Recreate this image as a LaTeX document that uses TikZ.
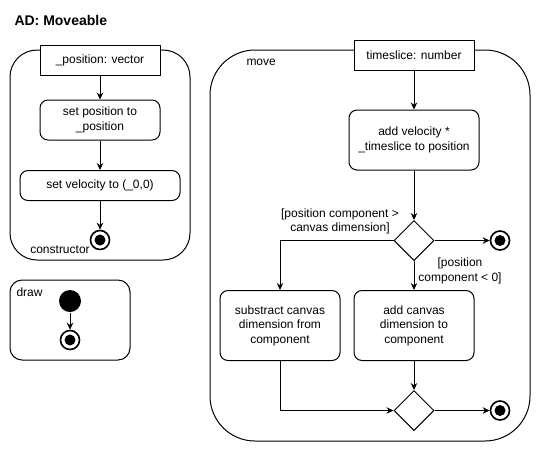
\documentclass[tikz,border=0pt]{standalone}
\usepackage{fontspec}
\setmainfont{Liberation Sans}
\usetikzlibrary{shapes.geometric,arrows.meta}
\begin{document}
\begin{tikzpicture}[x=1pt,y=-1pt,
  every node/.style={font=\fontsize{12}{14.4}\selectfont, inner sep=0pt},
  line width=1pt,
  container/.style={draw, fill=white, rounded corners=#1},
  pin/.style={draw, fill=white, minimum width=120pt, minimum height=30pt},
  action/.style={draw, fill=white, rounded corners=8pt, align=center},
  decision/.style={draw, fill=white, diamond, aspect=1, minimum width=40pt, minimum height=40pt},
  finalnode/.style={draw, circle, fill=white, line width=1.6pt, minimum size=19pt,
    path picture={\fill[black] (path picture bounding box.center) circle (5.5pt);}},
  initnode/.style={circle, fill=black, minimum size=22pt},
  flow/.style={-{Stealth[length=7pt,width=6.5pt]}},
  lbl/.style={align=center}
]
\useasboundingbox (0,0) rectangle (541,451);
% title
\node[anchor=west, font=\fontsize{14}{16}\selectfont\bfseries] (title) at (14,20) {AD: Moveable};

% containers
\node[container=27pt, minimum width=180pt, minimum height=210pt] (cons) at (100,155) {};
\node[container=12pt, minimum width=120pt, minimum height=80pt] (drawc) at (70,320) {};
\node[container=45pt, minimum width=320pt, minimum height=391pt] (movec) at (370,245.5) {};

\node (consl) at (60,250) {constructor};
\node[anchor=west] (drawl) at (16,292) {draw};
\node[anchor=west] (movel) at (246,62) {move};

% constructor
\node[pin] (pos) at (100,60) {\_position: vector};
\node[action, minimum width=120pt, minimum height=40pt] (setpos) at (100,120) {set position to\\\_position};
\node[action, minimum width=160pt, minimum height=30pt] (setvel) at (100,185.5) {set velocity to (\_0,0)};
\node[finalnode] (end1) at (100,240) {};
\draw[flow] (pos) -- (setpos);
\draw[flow] (setpos) -- (setvel);
\draw[flow] (setvel) -- (end1);

% draw
\node[initnode] (init2) at (70,301) {};
\node[finalnode] (end2) at (70,340) {};
\draw[flow] (init2) -- (end2);

% move
\node[pin] (ts) at (414,55) {timeslice: number};
\node[action, minimum width=130pt, minimum height=60pt] (addv) at (414,140) {add velocity *\\\_timeslice to position};
\node[decision] (d1) at (414,240.5) {};
\node[finalnode] (end3) at (500,240.5) {};
\node[action, minimum width=120pt, minimum height=70pt] (sub) at (280,325.5) {substract canvas\\dimension from\\component};
\node[action, minimum width=120pt, minimum height=70pt] (addc) at (414,325.5) {add canvas\\dimension to\\component};
\node[decision] (d2) at (414,410.5) {};
\node[finalnode] (end4) at (500,410.5) {};

\node[lbl] (g1) at (340,221.5) {[position component >\\canvas dimension]};
\node[lbl] (g2) at (460,271) {[position\\component < 0]};

\draw[flow] (ts) -- (addv);
\draw[flow] (addv) -- (d1);
\draw[flow] (d1) -- (end3);
\draw[flow] (d1.west) -| (sub.north);
\draw[flow] (d1.south) -- (addc.north);
\draw[flow] (sub.south) |- (d2.west);
\draw[flow] (addc.south) -- (d2.north);
\draw[flow] (d2) -- (end4);
\end{tikzpicture}
\end{document}
